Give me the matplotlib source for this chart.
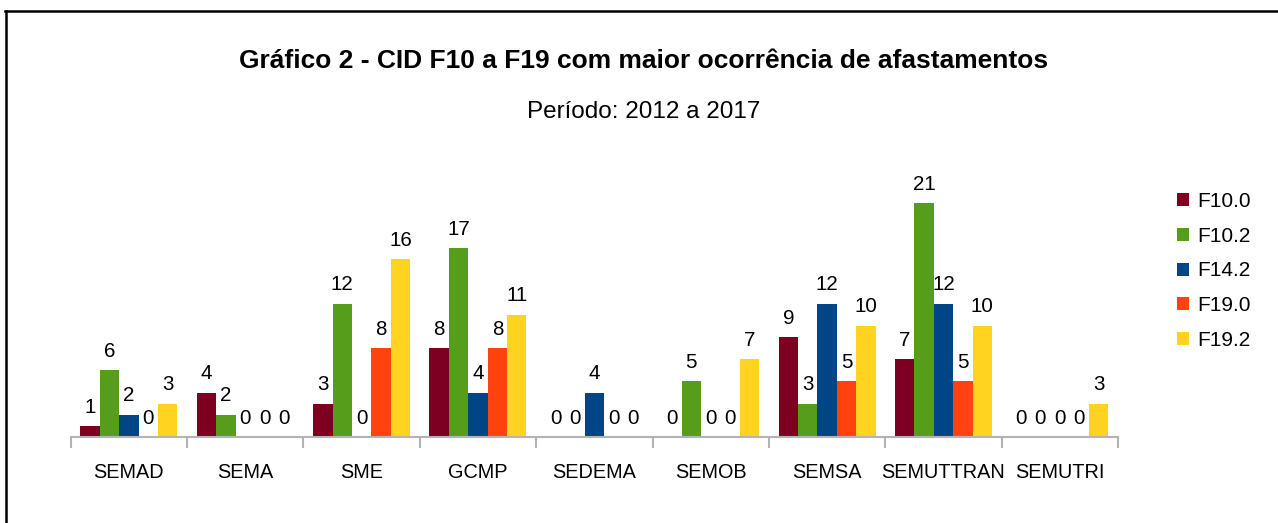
import matplotlib
matplotlib.use("Agg")
import matplotlib.pyplot as plt
from matplotlib.lines import Line2D
import numpy as np

plt.rcParams['font.family'] = ['Liberation Sans', 'DejaVu Sans']

categories = ["SEMAD", "SEMA", "SME", "GCMP", "SEDEMA", "SEMOB", "SEMSA", "SEMUTTRAN", "SEMUTRI"]
series_names = ["F10.0", "F10.2", "F14.2", "F19.0", "F19.2"]
f10_0 = [1, 4, 3, 8, 0, 0, 9, 7, 0]
f10_2 = [6, 2, 12, 17, 0, 5, 3, 21, 0]
f14_2 = [2, 0, 0, 4, 4, 0, 12, 12, 0]
f19_0 = [0, 0, 8, 8, 0, 0, 5, 5, 0]
f19_2 = [3, 0, 16, 11, 0, 7, 10, 10, 3]
series_values = [f10_0, f10_2, f14_2, f19_0, f19_2]
colors = ["#7E0021", "#579D1C", "#004586", "#FF420E", "#FFD320"]

W, H = 1278, 523
fig = plt.figure(figsize=(W / 100, H / 100), dpi=100)
fig.patch.set_facecolor("white")

# partial frame (top and left edges visible)
fig.add_artist(Line2D([5 / W, 1.0], [1 - 11 / H, 1 - 11 / H], transform=fig.transFigure,
                      color="black", linewidth=1.8))
fig.add_artist(Line2D([6 / W, 6 / W], [0.0, 1 - 11 / H], transform=fig.transFigure,
                      color="black", linewidth=1.8))

fig.text(644 / W, 1 - 68.5 / H, "Gráfico 2 - CID F10 a F19 com maior ocorrência de afastamentos",
         ha="center", va="baseline", fontsize=19, fontweight="bold", color="black")
fig.text(644 / W, 1 - 118.5 / H, "Período: 2012 a 2017",
         ha="center", va="baseline", fontsize=17.5, color="black")

ax_left, ax_right = 70.7, 1118
ax_bottom, ax_top = 437, 170
ax = fig.add_axes([ax_left / W, 1 - ax_bottom / H, (ax_right - ax_left) / W, (ax_bottom - ax_top) / H])

x = np.arange(len(categories))
bw = 1 / 6
for i, (name, vals, c) in enumerate(zip(series_names, series_values, colors)):
    pos = x + (i - 2) * bw
    ax.bar(pos, vals, width=bw, color=c, label=name, linewidth=0)
    for px, v in zip(pos, vals):
        ax.annotate(str(v), (px, v), xytext=(0, 9.6), textcoords="offset points",
                    ha="center", va="baseline", fontsize=14.8, color="black")

ax.set_xlim(-0.5, len(categories) - 0.5)
ax.set_ylim(0, 24)
ax.set_yticks([])
for s in ["top", "right", "left"]:
    ax.spines[s].set_visible(False)
ax.spines["bottom"].set_color("#B3B3B3")
ax.spines["bottom"].set_linewidth(1.5)

ax.set_xticks(np.arange(-0.5, len(categories), 1.0))
ax.set_xticklabels([])
ax.tick_params(axis="x", which="major", length=8, width=1.5, color="#B3B3B3", direction="out")
ax.set_xticks(x, minor=True)
ax.set_xticklabels(categories, minor=True)
ax.tick_params(axis="x", which="minor", length=0, pad=18.5, labelsize=14.3, labelcolor="black")

fig.legend(loc="center left", bbox_to_anchor=(1177 / W, 1 - 271 / H),
           bbox_transform=fig.transFigure, frameon=False, fontsize=15,
           handlelength=0.58, handleheight=0.58, handletextpad=0.4,
           labelspacing=0.75, borderpad=0, borderaxespad=0)

fig.savefig("out.png", dpi=100, facecolor="white")
